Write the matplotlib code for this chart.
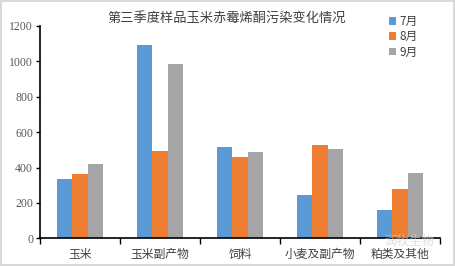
import matplotlib
matplotlib.use("Agg")
import matplotlib.pyplot as plt
import numpy as np

categories = ["玉米", "玉米副产物", "饲料", "小麦及副产物", "粕类及其他"]
series_names = ["7月", "8月", "9月"]
jul = [335, 1093, 518, 245, 160]
aug = [363, 495, 458, 529, 280]
sep = [420, 985, 488, 505, 370]
yticks = [0, 200, 400, 600, 800, 1000, 1200]
title = "第三季度样品玉米赤霉烯酮污染变化情况"
colors = ["#5B9BD5", "#ED7D31", "#A5A5A5"]

plt.rcParams['font.family'] = ['Noto Sans CJK SC', 'DejaVu Sans']

fig = plt.figure(figsize=(4.55, 2.66), dpi=100)
fig.patch.set_facecolor("white")
fig.patch.set_edgecolor("#d9d9d9")
fig.patch.set_linewidth(1.5)
ax = fig.add_axes([40/455, 1-238.3/266, 400/455, 212.3/266])

x = np.arange(len(categories))
w = 0.19
for i, (vals, name) in enumerate(zip([jul, aug, sep], series_names)):
    ax.bar(x + (i-1)*w, vals, width=w, color=colors[i], label=name, zorder=2)

ax.set_xlim(-0.5, len(categories)-0.5)
ax.set_ylim(0, 1200)
ax.set_yticks(yticks)
ax.set_yticklabels([str(t) for t in yticks], family=['Liberation Serif'], fontsize=8.5, color="#595959")
ax.set_xticks(np.arange(-0.5, len(categories)), minor=False)
ax.set_xticklabels([""]*(len(categories)+1))
ax.set_xticks(x, minor=True)
ax.set_xticklabels(categories, minor=True, fontsize=8.5, color="#404040")
ax.tick_params(axis='x', which='minor', length=0, pad=7)
ax.tick_params(axis='x', which='major', length=4, width=1, color="black", direction='out')
ax.tick_params(axis='y', length=3, width=1, color="black", pad=2)
for s in ["top", "right"]:
    ax.spines[s].set_visible(False)
for s in ["left", "bottom"]:
    ax.spines[s].set_color("black")
    ax.spines[s].set_linewidth(1.2)

fig.text(227/455, 1-19/266, title, ha="center", va="center", fontsize=9.5, color="#404040")

leg = fig.legend(loc="upper left", bbox_to_anchor=(389/455, 1-15/266), frameon=False,
                 fontsize=8.5, handlelength=0.6, handleheight=0.6, handletextpad=0.3,
                 labelspacing=0.2, borderaxespad=0, borderpad=0)
for t in leg.get_texts():
    t.set_color("#404040")

fig.text(410/455, 1-241/266, "润牧生物", ha="center", va="center", fontsize=9, color="#d0d0d0", alpha=0.7, zorder=0)

fig.savefig("out.png", dpi=100, facecolor=fig.get_facecolor(), edgecolor=fig.get_edgecolor())
